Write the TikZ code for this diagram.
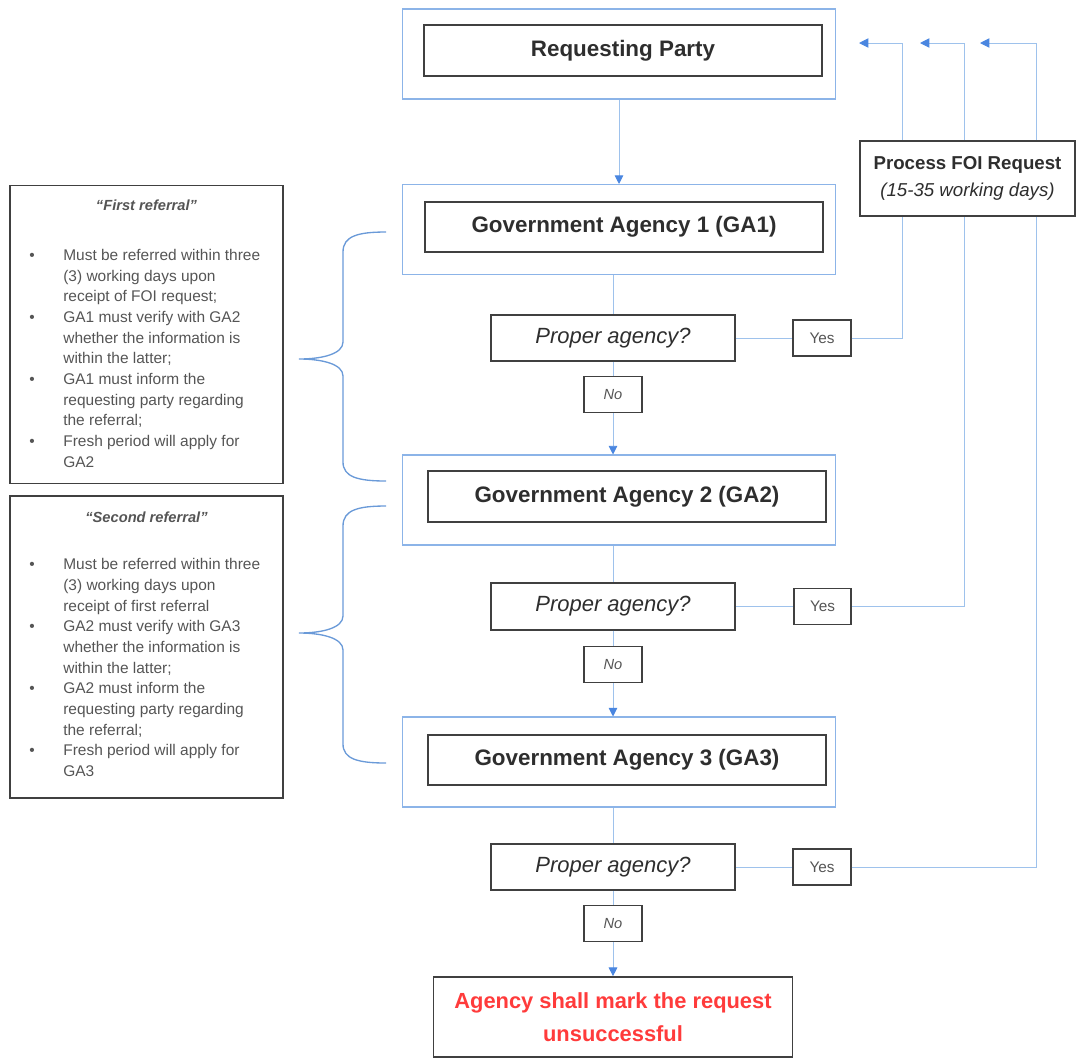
\documentclass[tikz,border=0pt]{standalone}
\usepackage{fontspec}
\setsansfont{Liberation Sans}
\usetikzlibrary{arrows.meta}
\definecolor{foiLine}{HTML}{9EC2EC}
\definecolor{foiTip}{HTML}{4A86E0}
\definecolor{foiFrame}{HTML}{8CB4E8}
\definecolor{foiBrace}{HTML}{6A9AD8}
\definecolor{foiBorder}{HTML}{404040}
\definecolor{foiText}{HTML}{2E2E2E}
\definecolor{foiNote}{HTML}{555555}
\definecolor{foiRed}{HTML}{FF3B3B}

\newcommand{\refpoint}[1]{\par\noindent\hangindent=40pt\hangafter=1\hspace*{14.5pt}\makebox[25.5pt][l]{•}#1\par}
\newcommand{\refhead}{\bfseries\itshape\fontsize{11}{15.5}\selectfont}

\begin{document}
\begin{tikzpicture}[
  x=0.75pt, y=-0.75pt,
  font=\sffamily,
  outerbox/.style={
    rectangle,
    draw=foiFrame,
    line width=0.8pt,
    minimum width=325pt,
    minimum height=67.5pt,
    inner sep=0pt
  },
  stepbox/.style={
    rectangle,
    draw=foiBorder,
    fill=white,
    line width=1.3pt,
    text=foiText,
    minimum width=298.5pt,
    minimum height=38pt,
    font=\sffamily\bfseries\fontsize{16.8}{20}\selectfont
  },
  askbox/.style={
    rectangle,
    draw=foiBorder,
    fill=white,
    line width=1.3pt,
    text=foiText,
    minimum width=183pt,
    minimum height=35pt,
    font=\sffamily\itshape\fontsize{16.5}{19}\selectfont
  },
  answer/.style={
    rectangle,
    draw=foiBorder,
    fill=white,
    line width=1.3pt,
    text=foiNote,
    minimum width=43pt,
    minimum height=27pt,
    font=\sffamily\fontsize{11.5}{13}\selectfont
  },
  refbox/.style={
    rectangle,
    draw=foiBorder,
    line width=1.3pt,
    inner sep=0pt,
    text=foiNote,
    font=\sffamily\fontsize{11.6}{15.5}\selectfont
  },
  foibox/.style={
    rectangle,
    draw=foiBorder,
    fill=white,
    line width=1.3pt,
    text=foiText,
    align=center,
    minimum width=161.25pt,
    minimum height=56.25pt,
    font=\sffamily\fontsize{14}{20}\selectfont
  },
  endbox/.style={
    rectangle,
    draw=foiBorder,
    fill=white,
    line width=1.3pt,
    text=foiRed,
    align=center,
    minimum width=269.25pt,
    minimum height=60pt,
    font=\sffamily\bfseries\fontsize{16.4}{24.75}\selectfont
  },
  link/.style={foiLine, line width=0.7pt},
  flow/.style={-{Triangle[length=6.5pt, width=6.5pt]}, foiLine, line width=0.7pt, arrows={[fill=foiTip, color=foiTip]}},
  back/.style={-{Triangle[length=7pt, width=7pt]}, foiLine, line width=0.7pt, arrows={[fill=foiTip, color=foiTip]}},
  brace/.style={foiBrace, line width=1pt}
]
  \useasboundingbox (0,0) rectangle (1077,1058);

  % main column
  \node[outerbox] (rpOuter) at (619,54) {};
  \node[stepbox] (rp) at (623,50.5) {Requesting Party};
  \node[outerbox] (ga1Outer) at (619,229.5) {};
  \node[stepbox] (ga1) at (624,227) {Government Agency 1 (GA1)};
  \node[askbox] (pa1) at (613,338) {Proper agency?};
  \node[answer] (yes1) at (822,338) {Yes};
  \node[answer, font=\sffamily\itshape\fontsize{11}{13}\selectfont] (no1) at (613,394.5) {No};

  \node[outerbox] (ga2Outer) at (619,500) {};
  \node[stepbox] (ga2) at (627,496.5) {Government Agency 2 (GA2)};
  \node[askbox] (pa2) at (613,606.5) {Proper agency?};
  \node[answer] (yes2) at (822.5,606.5) {Yes};
  \node[answer, font=\sffamily\itshape\fontsize{11}{13}\selectfont] (no2) at (613,664.5) {No};

  \node[outerbox] (ga3Outer) at (619,762) {};
  \node[stepbox] (ga3) at (627,760) {Government Agency 3 (GA3)};
  \node[askbox] (pa3) at (613,867) {Proper agency?};
  \node[answer] (yes3) at (822,867) {Yes};
  \node[answer, font=\sffamily\itshape\fontsize{11}{13}\selectfont] (no3) at (613,923.5) {No};

  \node[endbox] (verdict) at (613,1017) {Agency shall mark the request\\unsuccessful};

  % referral notes
  \node[refbox] (firstRef) at (146.5,334.5) {%
    \begin{minipage}[c][223.5pt][t]{204.75pt}
    \vspace*{10.5pt}
    {\centering\refhead “First referral”\par}
    \vspace{22.25pt}
    \raggedright
    \refpoint{Must be referred within three\newline(3) working days upon\newline receipt of FOI request;}
    \refpoint{GA1 must verify with GA2\newline whether the information is\newline within the latter;}
    \refpoint{GA1 must inform the\newline requesting party regarding\newline the referral;}
    \refpoint{Fresh period will apply for\newline GA2}
    \end{minipage}};
  \node[refbox] (secondRef) at (146.5,647) {%
    \begin{minipage}[c][226.5pt][t]{204.75pt}
    \vspace*{12.25pt}
    {\centering\refhead “Second referral”\par}
    \vspace{19.75pt}
    \raggedright
    \refpoint{Must be referred within three\newline(3) working days upon\newline receipt of first referral}
    \refpoint{GA2 must verify with GA3\newline whether the information is\newline within the latter;}
    \refpoint{GA2 must inform the\newline requesting party regarding\newline the referral;}
    \refpoint{Fresh period will apply for\newline GA3}
    \end{minipage}};

  \draw[brace] (386,232) .. controls (358,232) and (343,236) .. (343,252) -- (343,342)
    .. controls (343,354) and (322,359) .. (299,359) .. controls (322,359) and (343,364) .. (343,376)
    -- (343,462) .. controls (343,477) and (358,481) .. (386,481);
  \draw[brace] (386,506) .. controls (358,506) and (343,510) .. (343,526) -- (343,616)
    .. controls (343,628) and (322,633) .. (299,633) .. controls (322,633) and (343,638) .. (343,650)
    -- (343,744) .. controls (343,759) and (358,763) .. (386,763);

  % return points
  \coordinate (turn1) at (902,43);
  \coordinate (tip1) at (859,43);
  \coordinate (turn2) at (964,43);
  \coordinate (tip2) at (920,43);
  \coordinate (turn3) at (1036,43);
  \coordinate (tip3) at (980,43);

  \draw[flow] (rpOuter) -- (ga1Outer);
  \draw[link] (ga1Outer.south -| pa1) -- (pa1);
  \draw[link] (pa1) -- (no1);
  \draw[flow] (no1) -- (no1 |- ga2Outer.north);
  \draw[link] (ga2Outer.south -| pa2) -- (pa2);
  \draw[link] (pa2) -- (no2);
  \draw[flow] (no2) -- (no2 |- ga3Outer.north);
  \draw[link] (ga3Outer.south -| pa3) -- (pa3);
  \draw[link] (pa3) -- (no3);
  \draw[flow] (no3) -- (verdict);

  \draw[link] (pa1) -- (yes1);
  \draw[back] (yes1) -| (turn1) -- (tip1);
  \draw[link] (pa2) -- (yes2);
  \draw[back] (yes2) -| (turn2) -- (tip2);
  \draw[link] (pa3) -- (yes3);
  \draw[back] (yes3) -| (turn3) -- (tip3);

  \node[foibox] (foi) at (967.5,178.5) {\textbf{Process FOI Request}\\\textit{(15-35 working days)}};

\end{tikzpicture}
\end{document}
